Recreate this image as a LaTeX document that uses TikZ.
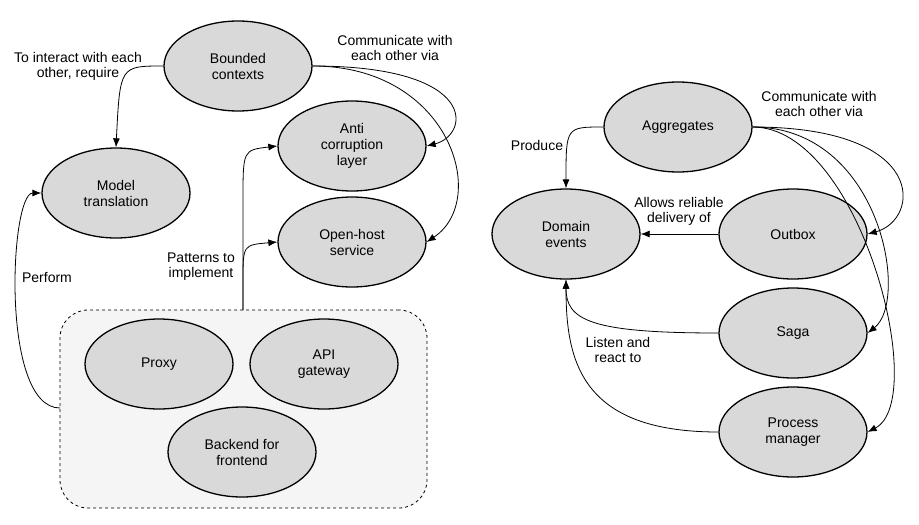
\documentclass[tikz,border=0pt]{standalone}
\usepackage{fontspec}
\setmainfont{Liberation Sans}
\usetikzlibrary{arrows.meta,shapes.geometric}
\begin{document}
\begin{tikzpicture}[x=1pt,y=-1pt,
  el/.style={ellipse,draw,line width=1.3pt,fill=gray!30,minimum width=148pt,minimum height=90pt,align=center,font=\fontsize{14}{16}\selectfont,inner sep=0pt},
  lbl/.style={align=center,font=\fontsize{14}{15}\selectfont,inner sep=1pt},
  ar/.style={-{Latex[length=9pt,width=7pt]},line width=0.8pt}]
\useasboundingbox (0,0) rectangle (919,525);
\node[draw,dashed,rounded corners=28pt,fill=gray!8,line width=0.8pt,minimum width=367pt,minimum height=198pt] (box) at (243.5,409) {};
\node[el] (bc) at (238,66) {Bounded\\contexts};
\node[el] (mt) at (116,193) {Model\\translation};
\node[el] (acl) at (352,146) {Anti\\corruption\\layer};
\node[el] (ohs) at (352,242) {Open-host\\service};
\node[el] (px) at (159,364) {Proxy};
\node[el] (api) at (324,364) {API\\gateway};
\node[el] (bff) at (242,452) {Backend for\\frontend};
\node[el] (ag) at (678,127) {Aggregates};
\node[el] (de) at (566,234) {Domain\\events};
\node[el] (ob) at (793,234) {Outbox};
\node[el] (sg) at (793,333) {Saga};
\node[el] (pm) at (793,432) {Process\\manager};
\coordinate (bt) at (243,310);
\coordinate (bl) at (60,408);
\draw[ar] (bc.west) .. controls (120,66) .. (mt.north);
\draw[ar] (bc.east) .. controls (480,66) and (470,135) .. (acl.east);
\draw[ar] (bc.east) .. controls (450,66) and (490,200) .. (ohs.east);
\draw[ar] (bt) -- (243,200) .. controls (243,150) .. (acl.west);
\draw[ar] (bt) -- (243,280) .. controls (243,245) .. (ohs.west);
\draw[ar] (bl) .. controls (0,408) and (10,193) .. (mt.west);
\draw[ar] (ag.west) .. controls (566,127) .. (de.north);
\draw[ar] (ag.east) .. controls (930,127) and (920,220) .. (ob.east);
\draw[ar] (ag.east) .. controls (880,127) and (910,300) .. (sg.east);
\draw[ar] (ag.east) .. controls (860,127) and (930,400) .. (pm.east);
\draw[ar] (ob.west) -- (de.east);
\draw[ar] (sg.west) .. controls (590,333) and (566,320) .. (de.south);
\draw[ar] (pm.west) .. controls (580,432) and (566,360) .. (de.south);
\node[lbl] at (78,66) {To interact with each\\other, require};
\node[lbl] at (395,48) {Communicate with\\each other via};
\node[lbl] at (201,267) {Patterns to\\implement};
\node[lbl] at (47,277) {Perform};
\node[lbl] at (537,145) {Produce};
\node[lbl] at (819,104) {Communicate with\\each other via};
\node[lbl] at (679,211) {Allows reliable\\delivery of};
\node[lbl] at (618,350) {Listen and\\react to};
\end{tikzpicture}
\end{document}
